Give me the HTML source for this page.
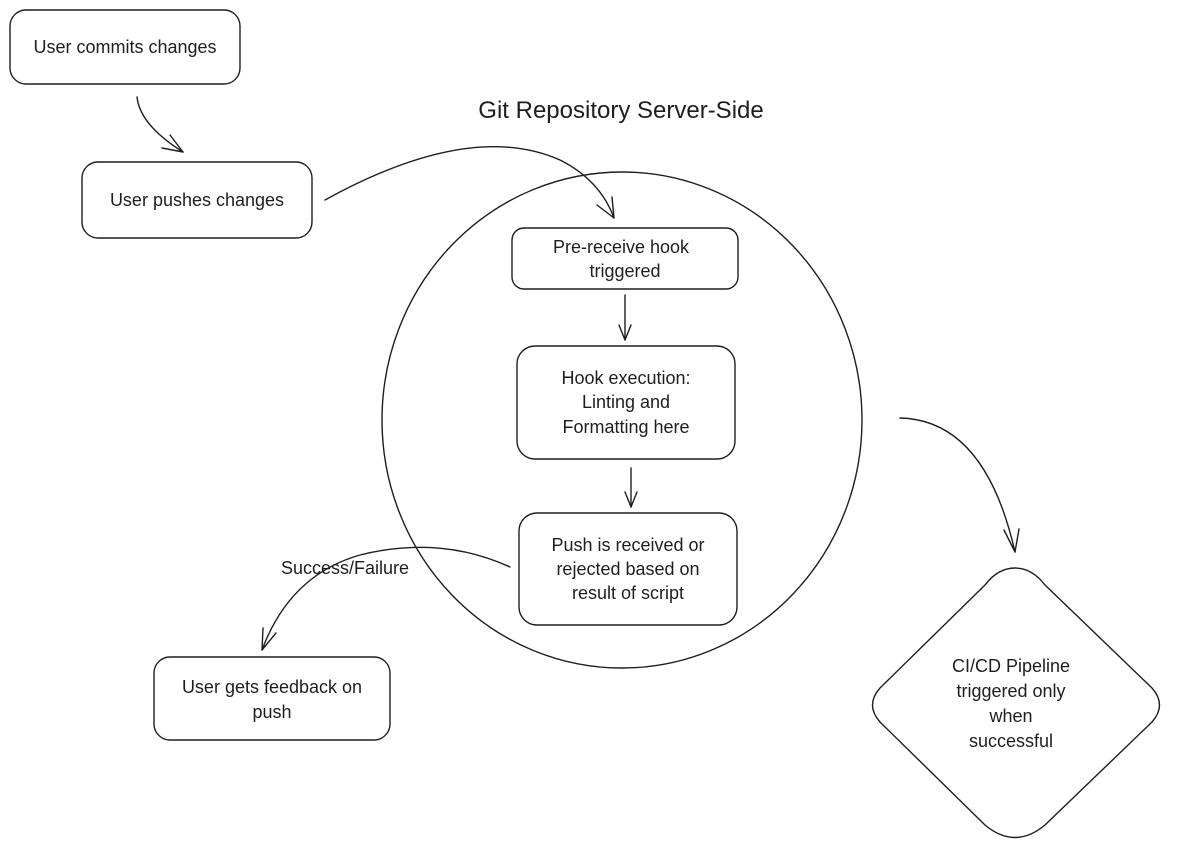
<!DOCTYPE html>
<html><head><meta charset="utf-8"><style>
html,body{margin:0;padding:0;background:#fff;}
svg{display:block}
text{font-family:"Liberation Sans","DejaVu Sans",sans-serif;font-size:18px;fill:#1e1e1e;text-anchor:middle}
</style></head><body>
<svg width="1187" height="861" viewBox="0 0 1187 861" xmlns="http://www.w3.org/2000/svg">
<g fill="none" stroke="#1e1e1e" stroke-width="1.4" stroke-linecap="round" stroke-linejoin="round">
<rect x="10" y="10" width="230" height="74" rx="16"/>
<rect x="82" y="162" width="230" height="76" rx="16"/>
<ellipse cx="622" cy="420" rx="240" ry="248"/>
<rect x="512" y="228" width="226" height="61" rx="12"/>
<rect x="517" y="346" width="218" height="113" rx="18"/>
<rect x="519" y="513" width="218" height="112" rx="18"/>
<rect x="154" y="657" width="236" height="83" rx="16"/>
<path d="M1015 568 Q1032 568 1045 585 L1152 688 Q1167 705 1152 722 L1045 825 Q1015 850 985 825 L880 722 Q865 705 880 688 L985 585 Q998 568 1015 568Z"/>
<path d="M137 97 Q140 125 183 152"/><path d="M183 152 L162 148 M183 152 L170 135"/>
<path d="M325 200 Q470 120 560 160 Q600 180 614 218"/><path d="M614 218 L597 205 M614 218 L612 197"/>
<path d="M625 295 L625 340"/><path d="M625 340 L619 325 M625 340 L631 325"/>
<path d="M631 468 L631 507"/><path d="M631 507 L625 492 M631 507 L637 492"/>
<path d="M510 567 Q440 535 360 555 Q290 575 262 650"/><path d="M262 650 L263 628 M262 650 L276 633"/>
<path d="M900 418 Q985 420 1015 552"/><path d="M1015 552 L1004 530 M1015 552 L1019 529"/>
</g>
<text x="125" y="53">User commits changes</text>
<text x="197" y="206">User pushes changes</text>
<text x="621" y="118" style="font-size:24px">Git Repository Server-Side</text>
<text x="621" y="253">Pre-receive hook</text>
<text x="625" y="277">triggered</text>
<text x="626" y="384">Hook execution:</text>
<text x="626" y="408">Linting and</text>
<text x="626" y="433">Formatting here</text>
<text x="628" y="551">Push is received or</text>
<text x="628" y="575">rejected based on</text>
<text x="628" y="599">result of script</text>
<text x="345" y="574">Success/Failure</text>
<text x="272" y="693">User gets feedback on</text>
<text x="272" y="718">push</text>
<text x="1011" y="672">CI/CD Pipeline</text>
<text x="1011" y="697">triggered only</text>
<text x="1011" y="722">when</text>
<text x="1011" y="747">successful</text>
</svg>
</body></html>
